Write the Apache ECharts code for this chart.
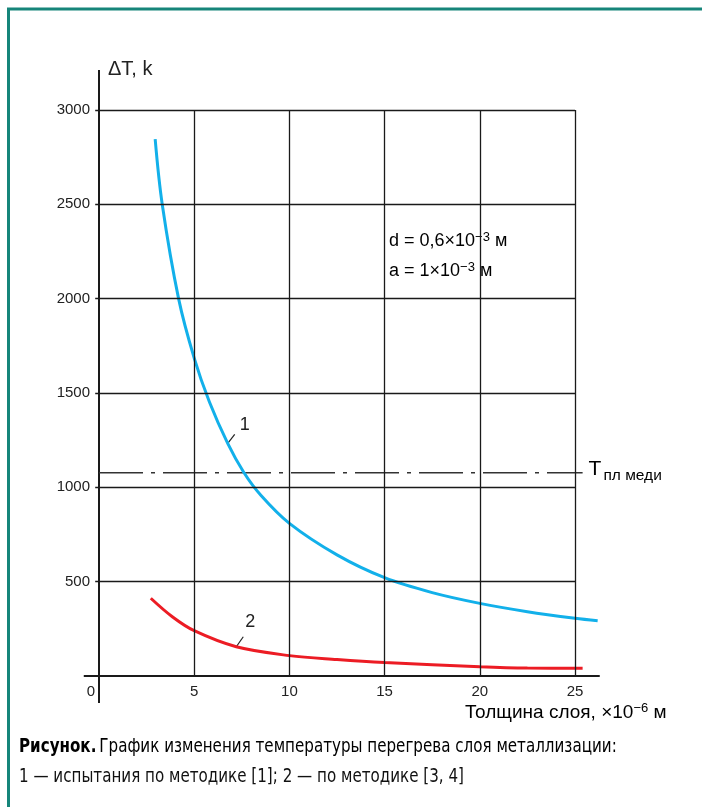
<!DOCTYPE html>
<html><head><meta charset="utf-8">
<script src="https://cdn.jsdelivr.net/npm/echarts@6/dist/echarts.min.js"></script>
<style>html,body{margin:0;padding:0;background:#fff}#c{width:702px;height:807px}</style>
</head><body><div id="c"></div>
<script>
// ---- data ----
const xTickValues = [0, 5, 10, 15, 20, 25];
const yTickValues = [0, 500, 1000, 1500, 2000, 2500, 3000];
// curve 1: испытания по методике [1]
const curve1X = [2.95, 3.32, 4.18, 5.0, 5.8, 6.76, 7.6, 8.5, 10.0, 12.5, 15.0, 17.5, 20.0, 22.5, 25.0, 26.19];
const curve1Y = [2845, 2500, 2000, 1685, 1452, 1233, 1080, 958, 809, 642, 521, 442, 385, 341, 306, 293];
// curve 2: по методике [3, 4]
const curve2X = [2.72, 3.85, 5.0, 7.21, 10.0, 12.5, 15.0, 20.0, 22.5, 25.0, 25.4];
const curve2Y = [412, 314, 240, 155, 108, 87, 71, 49, 42, 41, 41];
// copper melting temperature line
const copperMeltT = 1077;
const copperLineX = [0, 25.4];
// axis line extents (beyond the grid)
const xAxisLineX = [-0.8, 26.3];
const yAxisLineY = [-143, 3212];
// annotation anchors on curves
const label1Anchor = [6.76, 1233];
const label2Anchor = [7.21, 155];

const FONT = 'Liberation Sans, Arial, sans-serif';
const CAPFONT = 'DejaVu Sans Condensed, DejaVu Sans, sans-serif';
const INK = '#1a1a1a';
const chart = echarts.init(document.getElementById('c'), null, {renderer: 'canvas'});

const zip = (xs, ys) => xs.map((x, i) => [x, ys[i]]);
const xMax = xTickValues[xTickValues.length - 1];
const yMax = yTickValues[yTickValues.length - 1];

const gridSegments = []
  .concat(xTickValues.filter(v => v > 0).map(v => [{coord: [v, 0]}, {coord: [v, yMax]}]))
  .concat(yTickValues.filter(v => v > 0).map(v => [{coord: [-0.2, v]}, {coord: [xMax, v]}]));

chart.setOption({
  animation: false,
  backgroundColor: '#fff',
  grid: {left: 3.8, right: 31.8, top: 110, bottom: 131, containLabel: false},
  xAxis: {
    type: 'value', min: -5, max: 30, interval: 5,
    axisLine: {show: false},
    axisTick: {show: false},
    splitLine: {show: false},
    axisLabel: {
      color: '#222', fontSize: 15, fontFamily: FONT, margin: 8,
      formatter: v => xTickValues.indexOf(v) < 0 ? '' : (v === 0 ? '{z|0}' : String(v)),
      rich: {z: {fontSize: 15, fontFamily: FONT, color: '#222', padding: [0, 16, 0, 0]}}
    }
  },
  yAxis: {
    type: 'value', min: 0, max: 3000, interval: 500, offset: -95.2,
    axisLine: {show: false},
    axisTick: {show: false},
    splitLine: {show: false},
    axisLabel: {
      color: '#222', fontSize: 15, fontFamily: FONT, margin: 9,
      formatter: v => v === 0 ? '' : String(v)
    }
  },
  series: [
    {type: 'line', data: zip(xAxisLineX, [0, 0]), symbol: 'none', clip: false, silent: true,
     lineStyle: {color: INK, width: 2},
     markLine: {silent: true, symbol: ['none', 'none'], label: {show: false}, animation: false,
       lineStyle: {color: INK, width: 1.3, type: 'solid'}, emphasis: {disabled: true},
       data: gridSegments}},
    {type: 'line', data: zip([0, 0], yAxisLineY), symbol: 'none', clip: false, silent: true,
     lineStyle: {color: INK, width: 2}},
    {type: 'line', data: zip(copperLineX, [copperMeltT, copperMeltT]), symbol: 'none', clip: false, silent: true,
     lineStyle: {color: '#333', width: 1.5, type: [44, 8, 4, 8]}},
    {type: 'line', data: zip(curve1X, curve1Y), symbol: 'none', clip: false, smooth: 0.35,
     lineStyle: {color: '#12b0ea', width: 3}},
    {type: 'line', data: zip(curve2X, curve2Y), symbol: 'none', clip: false, smooth: 0.35,
     lineStyle: {color: '#ec1c24', width: 3}}
  ]
});

const p1 = chart.convertToPixel({gridIndex: 0}, label1Anchor);
const p2 = chart.convertToPixel({gridIndex: 0}, label2Anchor);
const pT = chart.convertToPixel({gridIndex: 0}, [copperLineX[1], copperMeltT]);

const sup = {fontSize: 13, fontFamily: FONT, color: '#222', verticalAlign: 'top', lineHeight: 13, padding: [0, 0, 8, 0]};
const nrm = {fontSize: 18, fontFamily: FONT, color: '#222', lineHeight: 21};
const sup2 = {fontSize: 13, fontFamily: FONT, color: '#222', verticalAlign: 'top', lineHeight: 13, padding: [0, 0, 8, 0]};
const nrm2 = {fontSize: 19, fontFamily: FONT, color: '#222', lineHeight: 22};

chart.setOption({
  graphic: [
    // teal frame
    {type: 'line', shape: {x1: 7, y1: 9, x2: 702, y2: 9}, style: {stroke: '#16857a', lineWidth: 3}, silent: true},
    {type: 'line', shape: {x1: 8.5, y1: 8, x2: 8.5, y2: 807}, style: {stroke: '#16857a', lineWidth: 3}, silent: true},
    // axis titles
    {type: 'text', left: 108, top: 59, style: {text: 'ΔT, k', font: '20px ' + FONT, fill: '#222'}},
    {type: 'text', left: 465, top: 702, style: {
      text: '{n|Толщина слоя, ×10}{s|−6}{n| м}',
      rich: {n: nrm2, s: sup2}}},
    // parameters box
    {type: 'text', left: 389, top: 231, style: {
      text: '{n|d = 0,6×10}{s|−3}{n| м}', rich: {n: nrm, s: sup}}},
    {type: 'text', left: 389, top: 261, style: {
      text: '{n|a = 1×10}{s|−3}{n| м}', rich: {n: nrm, s: sup}}},
    // copper melting label
    {type: 'text', x: pT[0] + 6, y: pT[1] - 14, style: {
      text: '{t|T}{b|пл меди}',
      rich: {t: {fontSize: 21, fontFamily: FONT, color: '#222', lineHeight: 25, verticalAlign: 'top'},
             b: {fontSize: 15.5, fontFamily: FONT, color: '#222', lineHeight: 15, verticalAlign: 'bottom', padding: [0, 0, 0, 2]}}}},
    // curve labels with leaders
    {type: 'line', shape: {x1: p1[0], y1: p1[1], x2: p1[0] + 7, y2: p1[1] - 9}, style: {stroke: '#222', lineWidth: 1.2}},
    {type: 'text', x: p1[0] + 12, y: p1[1] - 27, style: {text: '1', font: '18px ' + FONT, fill: '#222'}},
    {type: 'line', shape: {x1: p2[0], y1: p2[1], x2: p2[0] + 7, y2: p2[1] - 10}, style: {stroke: '#222', lineWidth: 1.2}},
    {type: 'text', x: p2[0] + 9, y: p2[1] - 34, style: {text: '2', font: '18px ' + FONT, fill: '#222'}},
    // caption
    {type: 'text', x: 19, y: 738, scaleX: 0.885, style: {
      text: '{b|Рисунок.} {r|График изменения температуры перегрева слоя металлизации:}',
      rich: {b: {fontSize: 19, fontWeight: 'bold', fontFamily: CAPFONT, color: '#111'},
             r: {fontSize: 19, fontFamily: CAPFONT, color: '#111'}}}},
    {type: 'text', x: 19, y: 768, scaleX: 0.885, style: {
      text: '1 — испытания по методике [1]; 2 — по методике [3, 4]',
      font: '19px ' + CAPFONT, fill: '#111'}}
  ]
});
</script></body></html>
